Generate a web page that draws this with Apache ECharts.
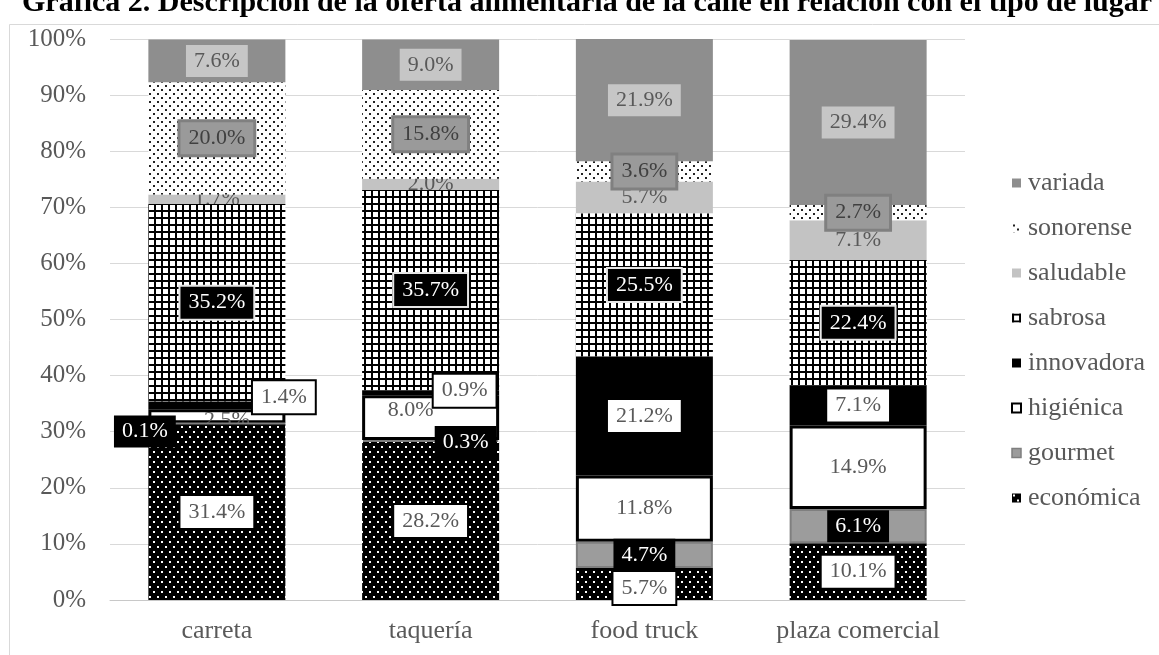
<!DOCTYPE html>
<html>
<head>
<meta charset="utf-8">
<script src="https://cdn.jsdelivr.net/npm/echarts@6/dist/echarts.min.js"></script>
<style>
  html, body { margin: 0; padding: 0; background: #fff; }
  #chart { width: 1159px; height: 655px; }
</style>
</head>
<body>
<div id="chart"></div>
<script>
// Lugares de venta y porcentaje de cada tipo de oferta alimentaria
const categories = ['carreta', 'taquería', 'food truck', 'plaza comercial'];
const economica  = [31.4, 28.2, 5.7, 10.1];
const gourmet    = [0.1, 0.3, 4.7, 6.1];
const higienica  = [2.5, 8.0, 11.8, 14.9];
const innovadora = [1.4, 0.9, 21.2, 7.1];
const sabrosa    = [35.2, 35.7, 25.5, 22.4];
const saludable  = [1.7, 2.0, 5.7, 7.1];
const sonorense  = [20.0, 15.8, 3.6, 2.7];
const variada    = [7.6, 9.0, 21.9, 29.4];
const legendOrder = ['variada', 'sonorense', 'saludable', 'sabrosa', 'innovadora', 'higiénica', 'gourmet', 'económica'];

const SERIF = '"Liberation Serif", "Times New Roman", serif';
const GRAY_TEXT = '#595959';

// Small repeating tiles used as bar fills
function tile(w, h, bg, draw) {
  const c = document.createElement('canvas');
  c.width = w; c.height = h;
  const g = c.getContext('2d');
  g.fillStyle = bg; g.fillRect(0, 0, w, h);
  draw(g);
  return { image: c, repeat: 'repeat' };
}
const whiteDots = tile(8, 10, '#000', g => {
  g.fillStyle = '#fff';
  g.fillRect(1, 1, 2, 2);
  g.fillRect(5, 6, 2, 2);
});
const darkDots = tile(8, 8, '#fff', g => {
  g.fillStyle = '#222';
  g.fillRect(1, 1, 2, 2);
  g.fillRect(5, 5, 2, 2);
});
const grid = tile(7, 7, '#fff', g => {
  g.fillStyle = '#000';
  g.fillRect(0, 0, 7, 2);
  g.fillRect(0, 0, 2, 7);
});

// Label nudges (pixels) for the thin segments whose labels sit beside the bar
const nudges = {
  'económica': { 2: [0, 4] },
  'gourmet': { 0: [-72, 8], 1: [35, 1] },
  'higiénica': { 0: [10, 4], 1: [-20, -7] },
  'innovadora': { 0: [67, -8], 1: [34, -2] }
};

const baseLabel = {
  show: true,
  position: 'inside',
  fontFamily: SERIF,
  fontSize: 22,
  lineHeight: 24,
  padding: [4, 8],
  formatter: p => p.value.toFixed(1) + '%'
};

function makeSeries(name, values, itemStyle, label, z) {
  const n = nudges[name] || {};
  return {
    name: name,
    type: 'bar',
    stack: 'total',
    barWidth: 137,
    z: z,
    itemStyle: itemStyle,
    label: Object.assign({}, baseLabel, label),
    emphasis: { disabled: true },
    data: values.map((v, i) => n[i] ? { value: v, label: { offset: n[i] } } : v)
  };
}

const series = [
  makeSeries('económica', economica, { color: whiteDots },
    { color: GRAY_TEXT, backgroundColor: '#fff', borderColor: '#000', borderWidth: 2 }, 3),
  makeSeries('gourmet', gourmet, { color: '#9c9c9c', borderColor: '#7f7f7f', borderWidth: 2 },
    { color: '#fff', backgroundColor: '#000' }, 5),
  makeSeries('higiénica', higienica, { color: '#fff', borderColor: '#000', borderWidth: 3 },
    { color: GRAY_TEXT }, 2),
  makeSeries('innovadora', innovadora, { color: '#000' },
    { color: GRAY_TEXT, backgroundColor: '#fff', borderColor: '#000', borderWidth: 2 }, 5),
  makeSeries('sabrosa', sabrosa, { color: grid },
    { color: '#fff', backgroundColor: '#000', borderColor: '#e6e6e6', borderWidth: 2 }, 4),
  makeSeries('saludable', saludable, { color: '#c3c3c3' },
    { color: GRAY_TEXT }, 2),
  makeSeries('sonorense', sonorense, { color: darkDots },
    { color: '#404040', backgroundColor: '#9a9a9a', borderColor: '#808080', borderWidth: 3 }, 5),
  makeSeries('variada', variada, { color: '#8e8e8e' },
    { color: GRAY_TEXT, backgroundColor: '#c6c6c6' }, 5)
];

const chart = echarts.init(document.getElementById('chart'));
chart.setOption({
  animation: false,
  backgroundColor: '#fff',
  title: {
    text: 'Gráfica 2. Descripción de la oferta alimentaria de la calle en relación con el tipo de lugar',
    left: 22,
    top: -12,
    padding: 0,
    textStyle: { fontFamily: SERIF, fontSize: 30, fontWeight: 'bold', color: '#000', lineHeight: 30 }
  },
  graphic: [{
    type: 'rect',
    left: 7, top: 22,
    shape: { width: 1170, height: 650 },
    style: { fill: 'none', stroke: '#d9d9d9', lineWidth: 1 },
    silent: true,
    z: -1
  }],
  grid: { left: 110, right: 194, top: 39, bottom: 55 },
  legend: {
    orient: 'vertical',
    left: 1006,
    top: 165,
    itemWidth: 9,
    itemHeight: 9,
    itemGap: 19,
    icon: 'rect',
    data: legendOrder.map(n => n === 'higiénica'
      ? { name: n, itemStyle: { borderWidth: 2 } }
      : n === 'gourmet' ? { name: n, itemStyle: { borderWidth: 1.5 } } : n),
    textStyle: { fontFamily: SERIF, fontSize: 26, lineHeight: 26, color: GRAY_TEXT, padding: [0, 0, 0, 2] }
  },
  xAxis: {
    type: 'category',
    data: categories,
    axisTick: { show: false },
    axisLine: { lineStyle: { color: '#c8c8c8', width: 1 } },
    axisLabel: { fontFamily: SERIF, fontSize: 26, color: GRAY_TEXT, margin: 18 }
  },
  yAxis: {
    type: 'value',
    min: 0,
    max: 100,
    interval: 10,
    axisLine: { show: false },
    axisTick: { show: false },
    splitLine: { lineStyle: { color: '#d9d9d9', width: 1 } },
    axisLabel: { fontFamily: SERIF, fontSize: 25, color: GRAY_TEXT, margin: 24, formatter: '{value}%' }
  },
  series: series
});
</script>
</body>
</html>
